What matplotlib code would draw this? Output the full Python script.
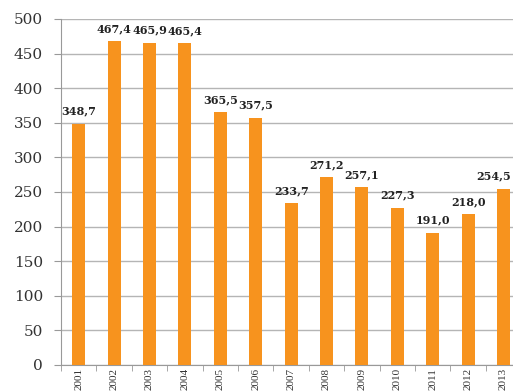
import matplotlib.pyplot as plt

years = ['2001', '2002', '2003', '2004', '2005', '2006', '2007',
         '2008', '2009', '2010', '2011', '2012', '2013']
values = [348.7, 467.4, 465.9, 465.4, 365.5, 357.5, 233.7,
          271.2, 257.1, 227.3, 191.0, 218.0, 254.5]
labels = ['348,7', '467,4', '465,9', '465,4', '365,5', '357,5', '233,7',
          '271,2', '257,1', '227,3', '191,0', '218,0', '254,5']

fig = plt.figure(figsize=(5.13, 3.92), dpi=100)
ax = fig.add_axes([0.119, 0.069, 0.897, 0.8827])

x = list(range(len(years)))
ax.bar(x, values, width=0.37, color='#F7931E', zorder=3)

for xi, v, lab in zip(x, values, labels):
    # last label is pushed left so it stays inside the figure
    dx = -7 if xi == len(years) - 1 else 0
    ax.annotate(lab, (xi, v), xytext=(dx, 5), textcoords='offset points',
                ha='center', va='bottom', fontsize=8, fontweight='bold',
                family='DejaVu Serif', color='#222222')

ax.set_xlim(-0.5, len(years) - 0.5)
ax.set_ylim(0, 500)
ax.set_yticks(range(0, 501, 50))
ax.set_yticklabels([str(t) for t in range(0, 501, 50)],
                   family='DejaVu Serif', fontsize=11, color='#333333')
ax.set_xticks(x)
ax.set_xticklabels(years, rotation=90, family='Liberation Serif',
                   fontsize=8, color='#333333')
ax.set_xticks([i - 0.5 for i in range(len(years) + 1)], minor=True)
ax.tick_params(axis='x', which='major', length=0, pad=2)
ax.tick_params(axis='x', which='minor', length=4, color='#999999')
ax.tick_params(axis='y', length=5, color='#999999', pad=8)

ax.yaxis.grid(True, color='#b5b5b5', linewidth=1, zorder=0)
for side in ['top', 'right']:
    ax.spines[side].set_visible(False)
ax.spines['left'].set_color('#999999')
ax.spines['bottom'].set_color('#999999')

fig.savefig('out.png', dpi=100)
